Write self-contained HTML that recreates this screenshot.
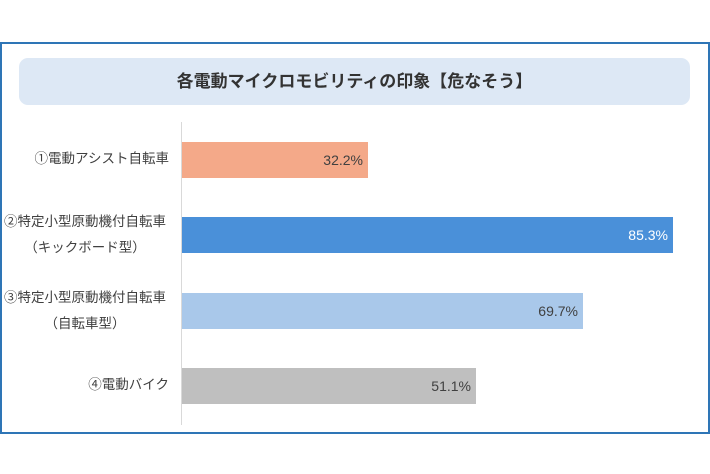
<!DOCTYPE html>
<html><head><meta charset="utf-8"><style>
body{margin:0;width:710px;height:474px;background:#fff;position:relative;overflow:hidden;font-family:"Liberation Sans","Noto Sans CJK JP",sans-serif;}
.frame{position:absolute;left:0;top:42px;width:706px;height:388px;border:2px solid #2e75b6;}
.title{position:absolute;left:19px;top:58px;width:671px;height:47px;background:#dde8f5;border-radius:9px;text-align:center;line-height:47px;font-size:17px;font-weight:bold;color:#333;}
.axis{position:absolute;left:181px;top:122px;width:1px;height:303px;background:#d9d9d9;}
.bar{position:absolute;left:182px;height:36px;text-align:right;font-size:14px;line-height:36px;color:#404040;box-sizing:border-box;padding-right:5px;}
.lab{position:absolute;width:168px;left:1px;text-align:center;font-size:13.5px;color:#404040;line-height:26px;white-space:nowrap;}
</style></head><body>
<div class="frame"></div>
<div class="title">各電動マイクロモビリティの印象【危なそう】</div>
<div class="axis"></div>
<div class="bar" style="top:142px;width:186px;background:#f4a989">32.2%</div>
<div class="bar" style="top:217px;width:491px;background:#4a90d9;color:#fff">85.3%</div>
<div class="bar" style="top:293px;width:401px;background:#a9c8ea">69.7%</div>
<div class="bar" style="top:368px;width:294px;background:#bfbfbf">51.1%</div>
<div class="lab" style="top:146px;text-align:right">①電動アシスト自転車</div>
<div class="lab" style="top:209px">②特定小型原動機付自転車<br>（キックボード型）</div>
<div class="lab" style="top:285px">③特定小型原動機付自転車<br>（自転車型）</div>
<div class="lab" style="top:372px;text-align:right">④電動バイク</div>
</body></html>
